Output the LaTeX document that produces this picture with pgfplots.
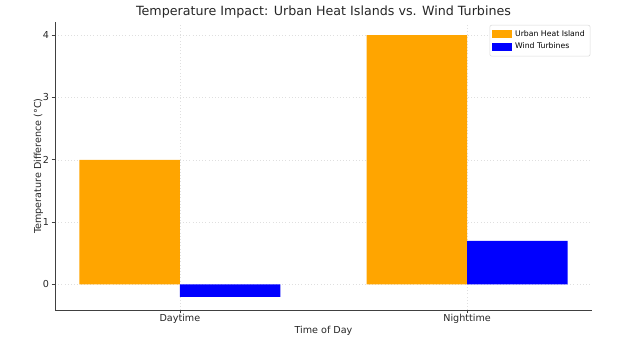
\documentclass[border=0pt]{standalone}
\usepackage{pgfplots}
\pgfplotsset{compat=1.18}
\usepackage{fontspec}
\setmainfont{DejaVu Sans}
\definecolor{mplorange}{HTML}{FFA500}
\definecolor{mplblue}{HTML}{0000FF}
\definecolor{spine}{HTML}{404040}
\definecolor{textc}{HTML}{262626}
\begin{document}
\begin{tikzpicture}
\begin{axis}[
  at={(41.25pt,30.75pt)}, anchor=south west,
  scale only axis, width=402.75pt, height=216pt,
  xmin=-0.435, xmax=1.435, ymin=-0.41, ymax=4.21,
  axis x line*=bottom, axis y line*=left,
  axis line style={spine, line width=0.6pt, -},
  xtick={0,1}, xticklabels={Daytime,Nighttime},
  ytick={0,1,2,3,4},
  tick align=outside, major tick length=2.5pt,
  tick style={spine, line width=0.5pt},
  grid=major, grid style={dotted, gray!25, line width=0.4pt},
  /pgf/number format/assume math mode=true,
  ticklabel style={font=\fontsize{7.2}{8}\selectfont, text=textc},
  xticklabel style={yshift=3pt},
  yticklabel style={xshift=1.5pt},
  xlabel={Time of Day}, ylabel={Temperature Difference (°C)},
  label style={font=\fontsize{7.2}{8}\selectfont, text=textc},
  xlabel style={yshift=5pt},
  ylabel style={yshift=-7pt},
  title={Temperature Impact: Urban Heat Islands vs. Wind Turbines},
  title style={font=\fontsize{9.5}{11}\selectfont, text=textc, yshift=-7pt},
  ybar, bar width=0.35,
  legend style={at={(0.997,0.99)}, anchor=north east, font=\fontsize{5.8}{7}\selectfont,
    draw=gray!30, rounded corners=1.5pt, inner sep=2pt, row sep=-0.5pt},
  legend cell align=left,
  legend image code/.code={\fill[#1, sharp corners] (0pt,-2.8pt) rectangle (15pt,3pt);},
]
\addplot[fill=mplorange, draw=none, bar shift=-0.175] coordinates {(0,2) (1,4)};
\addplot[fill=mplblue, draw=none, bar shift=0.175] coordinates {(0,-0.2) (1,0.7)};
\legend{Urban Heat Island, Wind Turbines}
\end{axis}
\pgfresetboundingbox
\useasboundingbox (0,0) rectangle (480.75pt,263.25pt);
\end{tikzpicture}
\end{document}
